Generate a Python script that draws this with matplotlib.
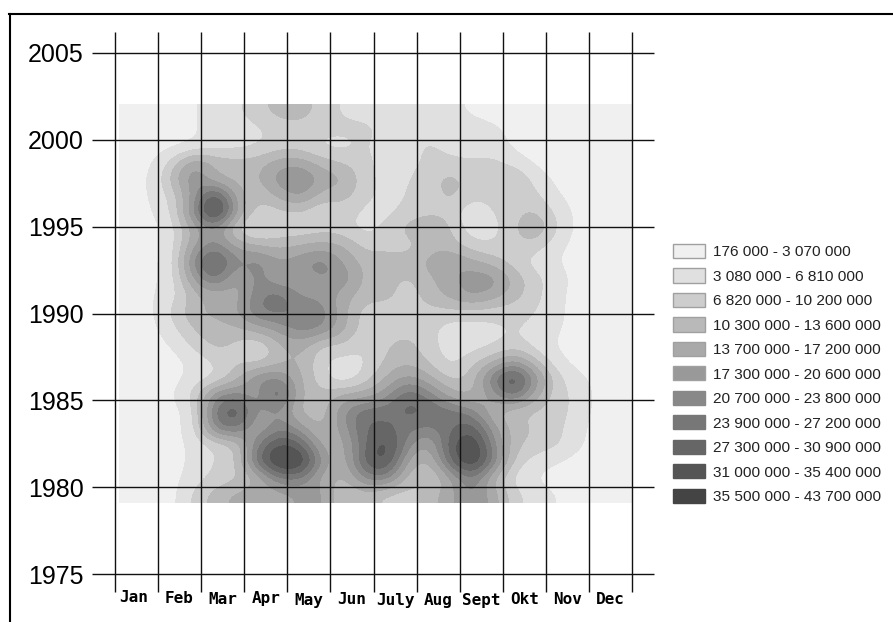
import numpy as np
import matplotlib
matplotlib.use("Agg")
import matplotlib.pyplot as plt
from matplotlib.colors import ListedColormap, BoundaryNorm
from matplotlib.lines import Line2D
from matplotlib.patches import Patch

W, H = 893, 622
months = ["Jan", "Feb", "Mar", "Apr", "May", "Jun", "July", "Aug", "Sept", "Okt", "Nov", "Dec"]
year_ticks = [1975, 1980, 1985, 1990, 1995, 2000, 2005]
legend_labels = ["176 000 - 3 070 000", "3 080 000 - 6 810 000", "6 820 000 - 10 200 000",
                 "10 300 000 - 13 600 000", "13 700 000 - 17 200 000", "17 300 000 - 20 600 000",
                 "20 700 000 - 23 800 000", "23 900 000 - 27 200 000", "27 300 000 - 30 900 000",
                 "31 000 000 - 35 400 000", "35 500 000 - 43 700 000"]
levels = [0.176, 3.075, 6.815, 10.25, 13.65, 17.25, 20.65, 23.85, 27.25, 30.95, 35.45, 43.7]
colors = ["#f0f0f0", "#e0e0e0", "#cdcdcd", "#b9b9b9", "#a9a9a9", "#999999",
          "#888888", "#777777", "#666666", "#555555", "#444444"]

# millions, half-month columns, rows from about 2001.6 down to 1979.6
values = np.array([
 [1.5,1.5,1.5,2.5,5,6,9,12,12,9,6,5.5,5,5,5,4,2.5,1.5,1.5,1.5,1.5,1.5,1.5,1.5],
 [1.5,1.5,1.5,2.5,5,5,6,8,9,8,8,8,6,5,5,5,5,4,2,1.5,1.5,1.5,1.5,1.5],
 [1.5,1.5,1.5,3,5,5,6.5,8,8,5.5,5,7.5,5,5,8,5,5,5,2,1.5,1.5,1.5,1.5,1.5],
 [1.5,2,8.5,18,13,12,12,16,16,12,10,8,5,5,8,8,7,8,5,2,1.5,1.5,1.5,1.5],
 [1.5,3,12,22,13,12,13,20,23,16,15,8,5.5,6.5,9,12,9,10,12,5,2,1.5,1.5,1.5],
 [1.5,3,8,18,33,15,10,15,19,12,12,8,5.5,7,8,12,8,8,10,8,3,1.5,1.5,1.5],
 [1.5,2.5,6.5,22,40,18,8,9,10,6,9,5.5,5.5,8,9,9,3,7,9,11,6,1.5,1.5,1.5],
 [1.5,1.5,5,15,20,8,3.5,8,7,9,8,5,8,12,15,11,4,5,10,15,7,1.5,1.5,1.5],
 [1.5,1.5,5,17,23,16,14,12,14,15,14,9,8,8,12,12,8,7,9,9,4,1.5,1.5,1.5],
 [1.5,2,5,23,32,21,23,18,20,24,17,12,14,12,15,18,15,12,8,5,3,1.5,1.5,1.5],
 [1.5,2,5,18,27,15,23,16,19,20,21,12,12,9,13,16,20,20,13,8,5,1.5,1.5,1.5],
 [1.5,2.5,5,12,15,15,23,27,19,20,15,12,12,8,12,15,19,16,12,8,4,1.5,1.5,1.5],
 [1.5,2,8,13,15,17,25,25,24,23,15,8,8,9,9,9,9,8,8,7,4,1.5,1.5,1.5],
 [1.5,1.5,6,11,12,13,16,19,23,22,15,8,8,9,8,5,5,6,7,6,3.5,1.5,1.5,1.5],
 [1.5,1.5,3,8,12,9,6,13,16,9,10,6.5,10,12,8,5,5,6,8,5,2.5,1.5,1.5,1.5],
 [1.5,1.5,1.5,4,7,10,8,12,14,7,5,6,11,13,10,5,9,13,19,11,4,1.5,1.5,1.5],
 [1.5,1.5,1.5,4.5,6,12,22,22,14,8,3,8,14,19,15,9,11,25,34,20,8,4,1.5,1.5],
 [1.5,1.5,2.5,8,21,23,17,31,13,11,15,15,19,28,23,15,12,19,28,15,8,6,1.5,1.5],
 [1.5,1.5,1.5,5,26,33,19,21,12,11,21,27,26,29,28,26,23,13,10,9,9,5,1.5,1.5],
 [1.5,1.5,1.5,5,24,26,15,24,19,12,19,28,28,25,23,26,31,19,12,10,8,4,1.5,1.5],
 [1.5,1.5,1.5,4,7,9,24,33,29,15,15,27,35,22,15,30,38,22,11,9,8,3.5,1.5,1.5],
 [1.5,1.5,1.5,4,7,9,28,39,38,20,13,30,34,16,12,28,38,25,9,5,3,1.5,1.5,1.5],
 [1.5,1.5,1.5,5,8,9,13,24,24,15,12,22,24,12,8,16,25,13,5,2.5,1.5,1.5,1.5,1.5],
 [1.5,1.5,1.5,8,12,15,16,15,18,19,9,12,9,8,12,16,22,16,8,5,3,1.5,1.5,1.5],
])

fig = plt.figure(figsize=(W / 100, H / 100), dpi=100)
L, R, T, B = 115, 632, 53, 574
ax = fig.add_axes([L / W, 1 - B / H, (R - L) / W, (B - T) / H])
for s in ax.spines.values():
    s.set_visible(False)

cmap = ListedColormap(colors)
cmap.set_under(colors[0])
cmap.set_over(colors[-1])
norm = BoundaryNorm(levels, cmap.N, clip=False)
ax.imshow(values, extent=(0.1, 12, 1979.1, 2002.07), origin="upper", aspect="auto",
          cmap=cmap, norm=norm, interpolation="bicubic", interpolation_stage="data", zorder=1)
ax.set_xlim(0, 12)
ax.set_ylim(1975, 2005)

px_x = (R - L) / 12
px_y = (B - T) / 30
ax.hlines(year_ticks, -(L - 92) / px_x, 12 + (654 - R) / px_x, color="#111111", lw=1.0, clip_on=False, zorder=3)
ax.vlines(np.arange(13), 1975 - (592 - B) / px_y, 2005 + (T - 32) / px_y, color="#111111", lw=1.0,
          clip_on=False, zorder=3)

ax.set_yticks(year_ticks)
ax.set_yticklabels(year_ticks, fontfamily="Liberation Sans", fontsize=18)
ax.tick_params(axis="y", length=0, pad=22.5)
ax.set_xticks([])

offsets_y = [-3, -1.5, -1, -1, 0, 0, 0, 0, 0, 0, 0, 0]
offsets_x = [-0.07, -0.02, 0, 0, 0, 0, 0, 0, 0, 0, 0, 0]
for i, (m, dy, dx) in enumerate(zip(months, offsets_y, offsets_x)):
    ax.annotate(m, xy=(i + 0.5 + dx, 1975), xytext=(0, -(26 + dy) * 0.72), textcoords="offset points",
                ha="center", va="center", fontfamily="DejaVu Sans Mono", fontweight="bold",
                fontsize=11.5, annotation_clip=False)

edge = ["#a0a0a0"] * 6 + ["#888888", "#777777", "#666666", "#555555", "#444444"]
handles = [Patch(facecolor=c, edgecolor=e, linewidth=1.0) for c, e in zip(colors, edge)]
fig.legend(handles, legend_labels, loc="upper left", bbox_to_anchor=(673 / W, 1 - 244 / H),
           frameon=False, borderpad=0, borderaxespad=0, handlelength=2.08, handleheight=1.04,
           handletextpad=0.5, labelspacing=0.59, prop={"family": "Liberation Sans", "size": 11.1},
           labelcolor="#222222")

fig.add_artist(Line2D([10 / W, 10 / W], [0, 1 - 14 / H], color="black", lw=1.5))
fig.add_artist(Line2D([9 / W, 1], [1 - 14 / H, 1 - 14 / H], color="black", lw=1.5))

fig.savefig("out.png", dpi=100, facecolor="white")
